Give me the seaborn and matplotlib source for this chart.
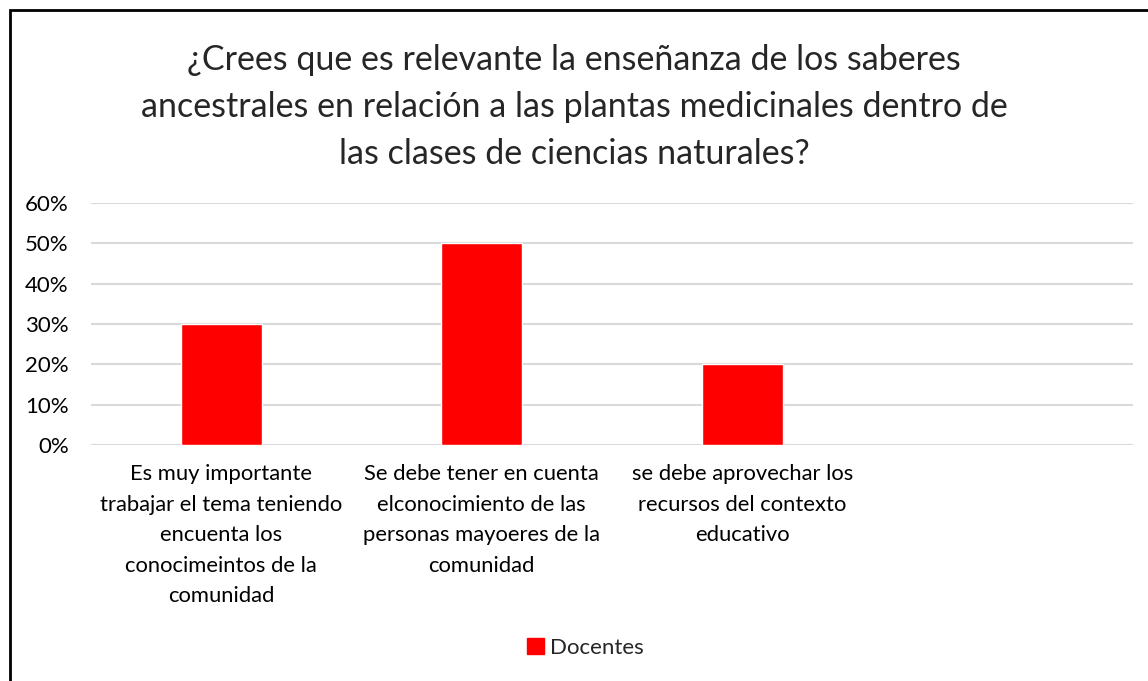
import matplotlib
matplotlib.use("Agg")
import matplotlib.pyplot as plt
from matplotlib.patches import Rectangle
import pandas as pd
import seaborn as sns

# data
categories = [
    "Es muy importante\ntrabajar el tema teniendo\nencuenta los\nconocimeintos de la\ncomunidad",
    "Se debe tener en cuenta\nelconocimiento de las\npersonas mayoeres de la\ncomunidad",
    "se debe aprovechar los\nrecursos del contexto\neducativo",
]
docentes = [0.30, 0.50, 0.20]
yticks = [0, 0.1, 0.2, 0.3, 0.4, 0.5, 0.6]
title = ("¿Crees que es relevante la enseñanza de los saberes\n"
         "ancestrales en relación a las plantas medicinales dentro de\n"
         "las clases de ciencias naturales?")

df = pd.DataFrame({"cat": categories, "val": docentes})

sns.set_style("white")
plt.rcParams["font.family"] = ["Lato", "DejaVu Sans"]

fig = plt.figure(figsize=(11.48, 6.81), dpi=100)
ax = fig.add_axes([0.0793, 0.3465, 0.9077, 0.3555])

sns.barplot(data=df, x="cat", y="val", color="#ff0000", width=0.31,
            saturation=1, ax=ax)
ax.set_xlim(-0.5, 3.5)
ax.set_ylim(0, 0.6)
ax.set_yticks(yticks)
ax.set_yticklabels([f"{int(round(t*100))}%" for t in yticks])
ax.yaxis.grid(True, color="#d9d9d9", linewidth=1.5)
ax.set_axisbelow(True)
for s in ax.spines.values():
    s.set_visible(False)
ax.tick_params(axis="both", length=0, colors="#000000")
ax.tick_params(axis="y", pad=16, labelsize=16)
ax.tick_params(axis="x", pad=14, labelsize=15.8)
for lbl in ax.get_xticklabels():
    lbl.set_linespacing(1.65)
ax.set_xlabel("")
ax.set_ylabel("")

handles = [Rectangle((0, 0), 1, 1, color="#ff0000")]
fig.legend(handles, ["Docentes"], loc="center", bbox_to_anchor=(0.51, 0.049),
           frameon=False, fontsize=16, handlelength=0.75, handleheight=0.75,
           handletextpad=0.3)

fig.text(0.5, 0.935, title, ha="center", va="top", fontsize=24.5,
         linespacing=1.58)

# chart frame (left and top edges visible)
fig.patches.append(Rectangle((10/1148, -0.5), 2.0, 1.5 - 10/681,
                             transform=fig.transFigure, fill=False,
                             edgecolor="black", linewidth=2))

fig.savefig("out.png", dpi=100)
